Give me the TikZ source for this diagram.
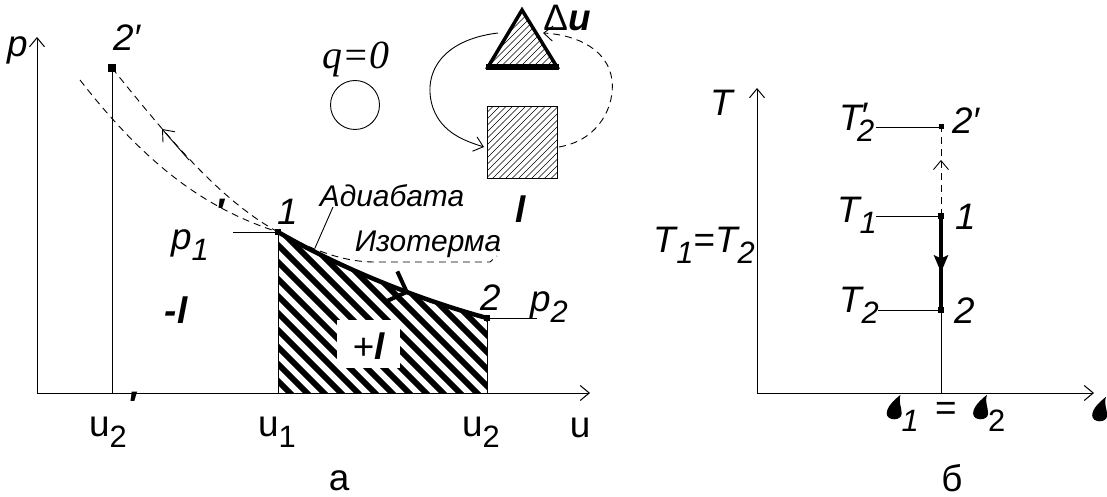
\documentclass[tikz,border=0pt]{standalone}
\usepackage{fontspec}
\setmainfont{Liberation Sans}
\newfontfamily\timesfont{Liberation Serif}
\usepackage{tikz}
\usetikzlibrary{arrows.meta, decorations.markings}

% subscript and entropy droplet
\newcommand{\lo}[1]{\raisebox{-0.3em}{\fontsize{31}{33}\selectfont #1}}
\newcommand{\drop}{\tikz[baseline=0bp, x=1.15bp, y=1.1bp]\fill (0,6) .. controls (0,-1) and (13,-1) .. (13,6) .. controls (13,12) and (10,16) .. (12,23) .. controls (6,18) and (0,12) .. (0,6);}

\tikzset{
  txt/.style={inner sep=0pt, font=\fontsize{37}{39}\selectfont\itshape},
  upr/.style={inner sep=0pt, font=\fontsize{37}{39}\selectfont},
  cyr/.style={inner sep=0pt, font=\fontsize{30}{32}\selectfont\itshape},
  axis/.style={line width=1bp, -{Straight Barb[length=9bp, width=15bp]}},
  guide/.style={line width=0.9bp},
  dsh/.style={line width=0.9bp, dash pattern=on 7bp off 5bp},
  pointbox/.style={fill, inner sep=0pt, minimum size=6bp},
  hatch/.style={line width=0.6bp},
  stripe/.style={line width=6bp},
}

\begin{document}
\begin{tikzpicture}[x=1bp, y=-1bp]
    \useasboundingbox (0,0) rectangle (1107,497);

    % p-u diagram
    \begin{scope}
        % work area under the adiabat
        \begin{scope}
            \clip (278,393) -- (278,232) .. controls (340,268) and (420,300) .. (487,318) -- (487,393) -- cycle;
            \foreach \s in {30,47,...,420}
                \draw[stripe] (\s,150) -- (\s+300,450);
        \end{scope}
        \node[fill=white, minimum width=63bp, minimum height=48bp] (gap) at (368,344) {};

        \coordinate (O) at (37,393);
        \coordinate (pTop) at (37,37);
        \coordinate (uEnd) at (590,393);
        \draw[axis] (O) -- (pTop);
        \draw[axis] (O) -- (uEnd);

        \node[pointbox, minimum size=8bp] (pt2s) at (112,68) {};
        \node[pointbox] (pt1) at (278,232) {};
        \node[pointbox] (pt2) at (487,318) {};
        \coordinate (u2s) at (112,393);
        \coordinate (u1) at (278,393);
        \coordinate (u2) at (487,393);
        \coordinate (p1l) at (233,232);
        \coordinate (p2r) at (537,318);

        \draw[guide] (u2s) -- (pt2s.center);
        \draw[guide] (u1) -- (pt1.center);
        \draw[guide] (u2) -- (pt2.center);
        \draw[guide] (p1l) -- (pt1.center);
        \draw[guide] (pt2.center) -- (p2r);

        % isotherm and adiabatic compression
        \draw[dsh] (80,80) .. controls (150,170) and (210,210) .. (pt1.center) .. controls (310,248) and (340,262) .. (375,262) -- (490,262) -- (497,256);
        \draw[dsh] (pt2s.center) .. controls (170,140) and (220,200) .. (pt1.center);
        \coordinate (ca) at (189,160);
        \coordinate (cb) at (162,129);
        \draw[guide, -{Straight Barb[length=10bp, width=16bp]}] (ca) -- (cb);

        % adiabatic expansion
        \draw[line width=4.5bp, decoration={markings, mark=at position 0.64 with {\arrow{Straight Barb[length=16bp, width=32bp, line width=4bp]}}}, postaction={decorate}] (pt1.center) .. controls (340,268) and (420,300) .. (pt2.center);

        \coordinate (lead1) at (315,248);
        \coordinate (lead2) at (333,207);
        \draw[guide] (lead1) -- (lead2);

        \node[txt] (lblP) at (18,50) {p};
        \node[txt] (lbl2s) at (127,38) {2′};
        \node[txt] (lbl1) at (288,212) {1};
        \node[txt] (lbl2) at (491,298) {2};
        \node[txt] (lblP1) at (190,245) {p\lo{1}};
        \node[txt] (lblPr) at (220,212) {\textbf{′}};
        \node[txt] (lblP2) at (549,307) {p\lo{2}};
        \node[cyr] (lblAd) at (392,196) {Адиабата};
        \node[cyr] (lblIz) at (428,244) {Изотерма};
        \node[txt] (lblMinus) at (176,310) {\textbf{-l}};
        \node[txt] (lblPlus) at (369,346) {\upshape+\textbf{\itshape l}};
        \node[upr] (lblU2s) at (108,432) {u\lo{2}};
        \node[txt] (lblU2sp) at (132,405) {\textbf{′}};
        \node[upr] (lblU1) at (277,432) {u\lo{1}};
        \node[upr] (lblU2) at (481,432) {u\lo{2}};
        \node[upr] (lblU) at (580,428) {u};
        \node[upr, anchor=base] (capA) at (339,490) {а};
    \end{scope}

    % adiabatic process scheme
    \begin{scope}
        \node[inner sep=0pt, font=\timesfont\itshape\fontsize{40}{42}\selectfont] (lblQ) at (356,59) {q=0};
        \node[draw, circle, line width=0.9bp, minimum size=49bp] (wall) at (355,105) {};

        \begin{scope}
            \clip (488,67) -- (522,10) -- (557,67) -- cycle;
            \foreach \s in {296,302.5,...,430}
                \draw[hatch] (\s,200) -- (\s+200,0);
        \end{scope}
        \draw[line width=3.5bp, line join=miter] (488,67) -- (522,10) -- (557,67) -- cycle;
        \draw[line width=6bp] (486,67) -- (559,67);

        \node[minimum width=69bp, minimum height=71bp, inner sep=0pt] (box) at (522.5,142.5) {};
        \begin{scope}
            \clip (box.north west) rectangle (box.south east);
            \foreach \s in {393,399.5,...,540}
                \draw[hatch] (\s,200) -- (\s+200,0);
        \end{scope}
        \draw[guide] (box.north west) rectangle (box.south east);

        \coordinate (outL) at (498,33);
        \coordinate (inL) at (484,147);
        \coordinate (outR) at (559,147);
        \coordinate (inR) at (543,33);
        \draw[guide, -{Straight Barb[length=9bp, width=15bp]}] (outL) .. controls (440,40) and (422,75) .. (433,108) .. controls (442,133) and (465,141) .. (inL);
        \draw[dsh, -{Straight Barb[length=9bp, width=15bp]}] (outR) .. controls (600,140) and (615,105) .. (612,80) .. controls (608,50) and (578,35) .. (inR);

        \node[txt] (lblDu) at (567,18) {\upshape Δ\textbf{\itshape u}};
        \node[txt] (lblL) at (521,209) {\textbf{l}};
    \end{scope}

    % T-s diagram
    \begin{scope}
        \coordinate (O2) at (757,393);
        \coordinate (tTop) at (757,88);
        \coordinate (sEnd) at (1094,393);
        \draw[axis] (O2) -- (tTop);
        \draw[axis] (O2) -- (sEnd);

        \node[pointbox, minimum size=5bp] (tp2s) at (941,127) {};
        \node[pointbox] (tp1) at (941,216) {};
        \node[pointbox] (tp2) at (941,310) {};
        \coordinate (s12) at (941,393);
        \coordinate (g2s) at (876,127);
        \coordinate (g1) at (876,216);
        \coordinate (g2) at (878,310);

        \draw[guide] (s12) -- (tp2.center);
        \draw[guide] (g2s) -- (tp2s.center);
        \draw[guide] (g1) -- (tp1.center);
        \draw[guide] (g2) -- (tp2.center);
        \draw[dsh, decoration={markings, mark=at position 0.63 with {\arrow{Straight Barb[length=9bp, width=15bp]}}}, postaction={decorate}] (tp1.center) -- (tp2s.center);
        \draw[line width=3.5bp, decoration={markings, mark=at position 0.6 with {\arrow{Stealth[length=17bp, width=14bp, inset=3bp]}}}, postaction={decorate}] (tp1.center) -- (tp2.center);

        \node[txt] (lblT) at (722,103) {T};
        \node[txt] (lblT2s) at (857,122) {T\kern-2bp\raisebox{0.05em}{′}\kern-10bp\lo{2}};
        \node[txt] (lblT1) at (857,215) {T\lo{1}};
        \node[txt] (lblT2) at (859,305) {T\lo{2}};
        \node[txt, anchor=east] (lblTeq) at (755,245) {T\lo{1}=T\lo{2}};
        \node[txt] (lbl2sT) at (966,121) {2′};
        \node[txt] (lbl1T) at (966,217) {1};
        \node[txt] (lbl2T) at (965,311) {2};
        \node[upr] (lblS12) at (946,413) {\drop\lo{\itshape 1}\;\,=\;\,\drop\lo{2}};
        \node[upr, anchor=west] (lblS) at (1092,410) {\drop};
        \node[upr, anchor=base] (capB) at (952,491) {б};
    \end{scope}
\end{tikzpicture}
\end{document}
